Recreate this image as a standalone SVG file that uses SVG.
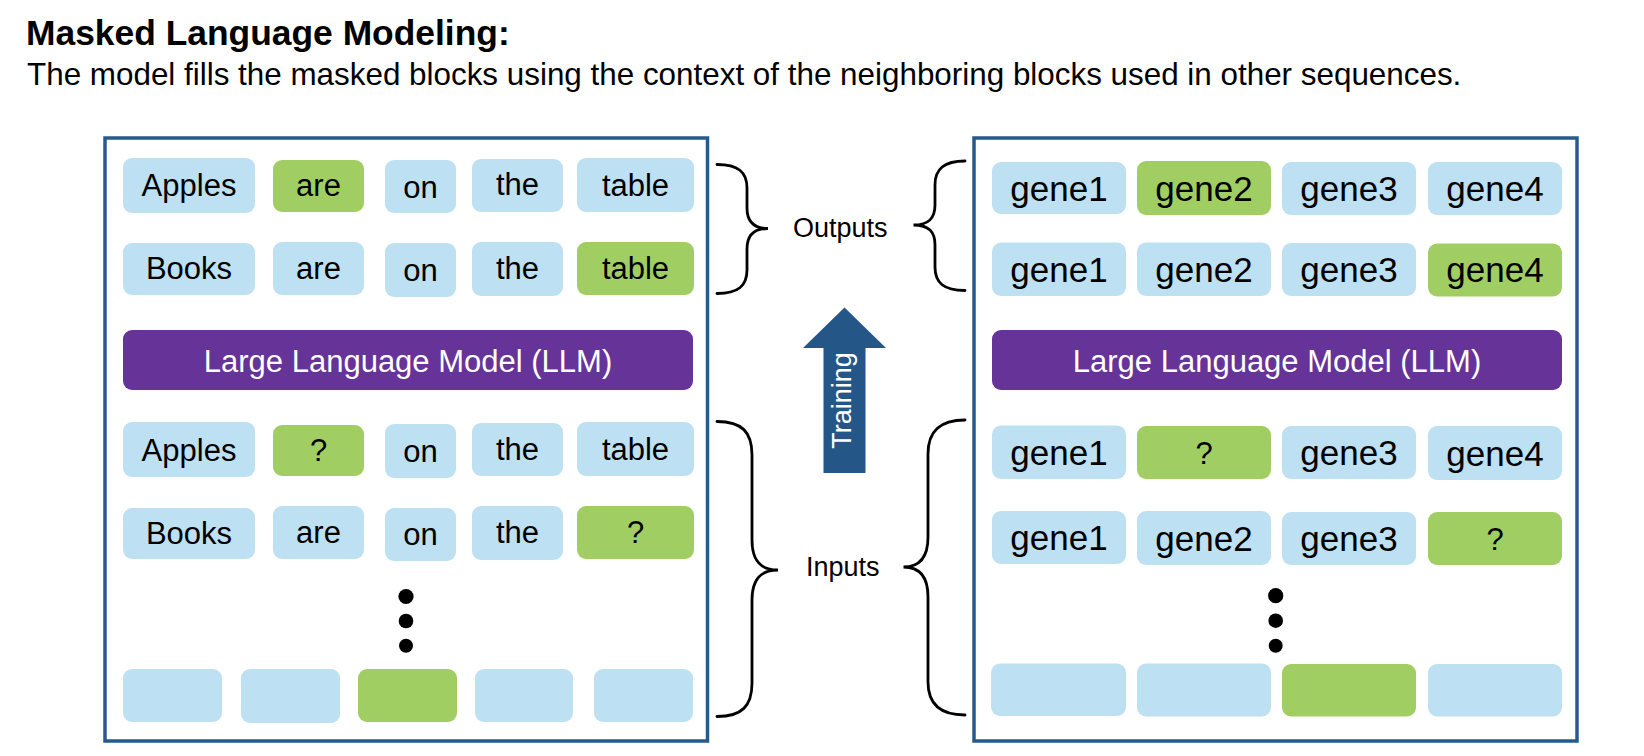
<svg xmlns="http://www.w3.org/2000/svg" width="1644" height="756" viewBox="0 0 1644 756">
<style>
.frame{fill:#ffffff;stroke:#275a8c;stroke-width:3.5}
.tok{fill:#bde0f3}
.msk{fill:#a1ce63}
.llm{fill:#663399}
.w{font-family:"Liberation Sans",Arial,sans-serif;font-size:31px;fill:#000;text-anchor:middle}
.g{font-family:"Liberation Sans",Arial,sans-serif;font-size:35px;fill:#000;text-anchor:middle}
.lt{font-family:"Liberation Sans",Arial,sans-serif;font-size:31px;fill:#fff;text-anchor:middle}
.lbl{font-family:"Liberation Sans",Arial,sans-serif;font-size:27px;fill:#000}
.brace{fill:none;stroke:#000;stroke-width:2.8;stroke-linecap:round}
.dot{fill:#000}
</style>
<rect width="1644" height="756" fill="#ffffff"/>
<g id="title">
<text x="26" y="45" font-family="'Liberation Sans',Arial,sans-serif" font-size="35.4" font-weight="bold">Masked Language Modeling:</text>
<text x="27" y="85" font-family="'Liberation Sans',Arial,sans-serif" font-size="31.4">The model fills the masked blocks using the context of the neighboring blocks used in other sequences.</text>
</g>
<g id="left-panel">
<rect class="frame" x="105" y="138" width="602.5" height="603"/>
<g id="l-r1">
<g id="l-r1-1"><rect class="tok" x="123" y="158" width="132" height="55" rx="9"/><text class="w" x="189" y="196">Apples</text></g>
<g id="l-r1-2"><rect class="msk" x="273" y="160" width="91" height="52" rx="9"/><text class="w" x="318.5" y="196">are</text></g>
<g id="l-r1-3"><rect class="tok" x="385" y="160" width="71" height="53" rx="9"/><text class="w" x="420.5" y="197.5">on</text></g>
<g id="l-r1-4"><rect class="tok" x="472" y="159" width="91" height="53" rx="9"/><text class="w" x="517.5" y="195">the</text></g>
<g id="l-r1-5"><rect class="tok" x="577" y="158" width="117" height="54" rx="9"/><text class="w" x="635.5" y="195.5">table</text></g>
</g>
<g id="l-r2">
<g id="l-r2-1"><rect class="tok" x="123" y="243" width="132" height="52" rx="9"/><text class="w" x="189" y="279">Books</text></g>
<g id="l-r2-2"><rect class="tok" x="273" y="242" width="91" height="53" rx="9"/><text class="w" x="318.5" y="279">are</text></g>
<g id="l-r2-3"><rect class="tok" x="385" y="243" width="71" height="54" rx="9"/><text class="w" x="420.5" y="281">on</text></g>
<g id="l-r2-4"><rect class="tok" x="472" y="242" width="91" height="54" rx="9"/><text class="w" x="517.5" y="279">the</text></g>
<g id="l-r2-5"><rect class="msk" x="577" y="242" width="117" height="53" rx="9"/><text class="w" x="635.5" y="279">table</text></g>
</g>
<g id="l-llm"><rect class="llm" x="123" y="330" width="570" height="60" rx="9"/><text class="lt" x="408" y="371.5">Large Language Model (LLM)</text></g>
<g id="l-r3">
<g id="l-r3-1"><rect class="tok" x="123" y="422" width="132" height="55" rx="9"/><text class="w" x="189" y="460.5">Apples</text></g>
<g id="l-r3-2"><rect class="msk" x="273" y="425" width="91" height="51" rx="9"/><text class="w" x="318.5" y="461">?</text></g>
<g id="l-r3-3"><rect class="tok" x="385" y="424" width="71" height="54" rx="9"/><text class="w" x="420.5" y="462">on</text></g>
<g id="l-r3-4"><rect class="tok" x="472" y="423" width="91" height="53" rx="9"/><text class="w" x="517.5" y="460">the</text></g>
<g id="l-r3-5"><rect class="tok" x="577" y="422" width="117" height="54" rx="9"/><text class="w" x="635.5" y="460">table</text></g>
</g>
<g id="l-r4">
<g id="l-r4-1"><rect class="tok" x="123" y="508" width="132" height="51" rx="9"/><text class="w" x="189" y="544">Books</text></g>
<g id="l-r4-2"><rect class="tok" x="273" y="506" width="91" height="53" rx="9"/><text class="w" x="318.5" y="543">are</text></g>
<g id="l-r4-3"><rect class="tok" x="385" y="508" width="71" height="53" rx="9"/><text class="w" x="420.5" y="545">on</text></g>
<g id="l-r4-4"><rect class="tok" x="472" y="506" width="91" height="54" rx="9"/><text class="w" x="517.5" y="543">the</text></g>
<g id="l-r4-5"><rect class="msk" x="577" y="506" width="117" height="53" rx="9"/><text class="w" x="635.5" y="543">?</text></g>
</g>
<g id="l-dots"><circle class="dot" cx="406" cy="596.5" r="7.6"/><circle class="dot" cx="406" cy="621" r="7.3"/><circle class="dot" cx="406" cy="645.7" r="7"/></g>
<g id="l-r5">
<rect class="tok" x="123" y="669" width="99" height="53" rx="9"/>
<rect class="tok" x="241" y="669" width="99" height="54" rx="9"/>
<rect class="msk" x="358" y="669" width="99" height="53" rx="9"/>
<rect class="tok" x="475" y="669" width="98" height="53" rx="9"/>
<rect class="tok" x="594" y="669" width="99" height="53" rx="9"/>
</g>
</g>
<g id="right-panel">
<rect class="frame" x="974" y="138" width="603" height="603"/>
<g id="r-r1">
<g id="r-r1-1"><rect class="tok" x="992" y="162" width="134" height="52" rx="9"/><text class="g" x="1059" y="200.5">gene1</text></g>
<g id="r-r1-2"><rect class="msk" x="1137" y="161" width="134" height="54" rx="9"/><text class="g" x="1204" y="200.5">gene2</text></g>
<g id="r-r1-3"><rect class="tok" x="1282" y="162" width="134" height="53" rx="9"/><text class="g" x="1349" y="201">gene3</text></g>
<g id="r-r1-4"><rect class="tok" x="1428" y="162" width="134" height="53" rx="9"/><text class="g" x="1495" y="201">gene4</text></g>
</g>
<g id="r-r2">
<g id="r-r2-1"><rect class="tok" x="992" y="242.5" width="134" height="53.5" rx="9"/><text class="g" x="1059" y="281.5">gene1</text></g>
<g id="r-r2-2"><rect class="tok" x="1137" y="242.5" width="134" height="53.5" rx="9"/><text class="g" x="1204" y="281.5">gene2</text></g>
<g id="r-r2-3"><rect class="tok" x="1282" y="243" width="134" height="53" rx="9"/><text class="g" x="1349" y="281.5">gene3</text></g>
<g id="r-r2-4"><rect class="msk" x="1428" y="243.5" width="134" height="53" rx="9"/><text class="g" x="1495" y="282">gene4</text></g>
</g>
<g id="r-llm"><rect class="llm" x="992" y="330" width="570" height="60" rx="9"/><text class="lt" x="1277" y="371.5">Large Language Model (LLM)</text></g>
<g id="r-r3">
<g id="r-r3-1"><rect class="tok" x="992" y="425.5" width="134" height="53.5" rx="9"/><text class="g" x="1059" y="465">gene1</text></g>
<g id="r-r3-2"><rect class="msk" x="1137" y="426" width="134" height="53" rx="9"/><text class="w" x="1204" y="464" font-size="32">?</text></g>
<g id="r-r3-3"><rect class="tok" x="1282" y="426" width="134" height="53" rx="9"/><text class="g" x="1349" y="465">gene3</text></g>
<g id="r-r3-4"><rect class="tok" x="1428" y="426" width="134" height="54" rx="9"/><text class="g" x="1495" y="465.5">gene4</text></g>
</g>
<g id="r-r4">
<g id="r-r4-1"><rect class="tok" x="992" y="511" width="134" height="53" rx="9"/><text class="g" x="1059" y="550">gene1</text></g>
<g id="r-r4-2"><rect class="tok" x="1137" y="511" width="134" height="54" rx="9"/><text class="g" x="1204" y="550.5">gene2</text></g>
<g id="r-r4-3"><rect class="tok" x="1282" y="512" width="134" height="53" rx="9"/><text class="g" x="1349" y="551">gene3</text></g>
<g id="r-r4-4"><rect class="msk" x="1428" y="512" width="134" height="53" rx="9"/><text class="w" x="1495" y="549.5">?</text></g>
</g>
<g id="r-dots"><circle class="dot" cx="1275.7" cy="595.7" r="7.6"/><circle class="dot" cx="1275.7" cy="620.7" r="7.3"/><circle class="dot" cx="1275.7" cy="645.7" r="7"/></g>
<g id="r-r5">
<rect class="tok" x="991" y="663.5" width="135" height="52.5" rx="9"/>
<rect class="tok" x="1137" y="663.5" width="134" height="53" rx="9"/>
<rect class="msk" x="1282" y="664" width="134" height="52.5" rx="9"/>
<rect class="tok" x="1428" y="664" width="134" height="52.5" rx="9"/>
</g>
</g>
<g id="connectors">
<path class="brace" d="M717,164.5 C738,164.5 747,172 747,188 L747,208 C747,221 753,228.5 768,228.5 C753,228.5 747,236 747,249 L747,270 C747,286 738,293.5 717,293.5"/>
<path class="brace" d="M965,161 C944,161 935,169 935,185 L935,205 C935,218 929,225 913.5,225 C929,225 935,232 935,245 L935,267 C935,283 944,290.5 965,290.5"/>
<path class="brace" d="M717,421.5 C742,421.5 752,432 752,455 L752,540 C752,560 760,570 778,570 C760,570 752,580 752,600 L752,683 C752,706 742,716.5 717,716.5"/>
<path class="brace" d="M965,420 C940,420 928,431 928,454 L928,537 C928,557 920,567 903.5,567 C920,567 928,577 928,597 L928,682 C928,704 940,715 965,715"/>
<g id="training-arrow">
<polygon points="844.5,307.5 886,348 865.5,348 865.5,473 823.5,473 823.5,348 803,348" fill="#255688"/>
<text transform="translate(851,400.5) rotate(-90)" font-family="'Liberation Sans',Arial,sans-serif" font-size="27" fill="#ffffff" text-anchor="middle">Training</text>
</g>
<text class="lbl" x="793" y="237">Outputs</text>
<text class="lbl" x="806" y="576">Inputs</text>
</g>
</svg>
